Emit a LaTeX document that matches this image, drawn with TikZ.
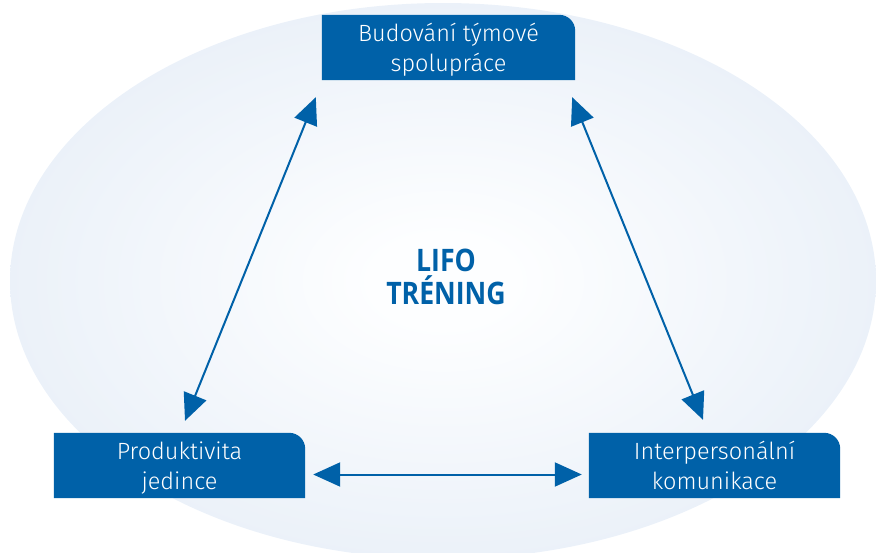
\documentclass[tikz,border=0pt]{standalone}
\usepackage{fontspec}
\setmainfont{Open Sans}
\newfontfamily\boxfont{Fira Sans Light}
\newfontfamily\titlefont[FakeStretch=0.86]{Open Sans}
\usetikzlibrary{arrows.meta,backgrounds}
\definecolor{boxblue}{HTML}{0061A8}
\definecolor{ellout}{HTML}{D6E2F1}
\definecolor{ellin}{HTML}{FDFEFF}
\pgfdeclareradialshading{ellshade}{\pgfpoint{0bp}{0bp}}{color(0bp)=(ellin); color(4bp)=(ellin); color(50bp)=(ellout); color(100bp)=(ellout)}
\newcommand{\twolines}[2]{\rule{0pt}{26pt}#1\\#2\rule[-8pt]{0pt}{8pt}}
\tikzset{
  boxnode/.style={minimum width=253pt,minimum height=65pt,inner sep=0pt,
    text=white,align=center,font=\boxfont\fontsize{23.5}{30}\selectfont},
  dbl/.style={boxblue,line width=2pt,{Triangle[length=27pt,width=24pt]}-{Triangle[length=27pt,width=24pt]}},
}
\begin{document}
\begin{tikzpicture}[x=1pt,y=-1pt]
\useasboundingbox (0,0) rectangle (876,552);
\node[boxnode] (top) at (448.5,47.5) {\twolines{Budování týmové}{spolupráce}};
\node[boxnode,minimum width=251pt] (left) at (179.5,465.5) {\twolines{Produktivita}{jedince}};
\node[boxnode,minimum width=251pt] (right) at (714.5,465.5) {\twolines{Interpersonální}{komunikace}};
\node[text=boxblue,align=center,font=\titlefont\bfseries\fontsize{31}{33}\selectfont] (title) at (446,277) {LIFO\\TRÉNING};
\begin{pgfonlayer}{background}
  \shade[shading=ellshade] (443,281) ellipse [x radius=433,y radius=278];
  \foreach \b in {top,left,right}{
    \fill[boxblue] (\b.south west) -- (\b.north west) [rounded corners=16pt] -- (\b.north east) [sharp corners] -- (\b.south east) -- cycle;
  }
\end{pgfonlayer}
\draw[dbl] ([xshift=-6pt,yshift=-17pt]top.south west) -- ([xshift=5.5pt,yshift=12pt]left.north);
\draw[dbl] ([xshift=-3pt,yshift=-17pt]top.south east) -- ([xshift=-11.5pt,yshift=13pt]right.north);
\draw[dbl] ([xshift=8pt,yshift=-9pt]left.east) -- ([xshift=-7pt,yshift=-9pt]right.west);
\end{tikzpicture}
\end{document}
